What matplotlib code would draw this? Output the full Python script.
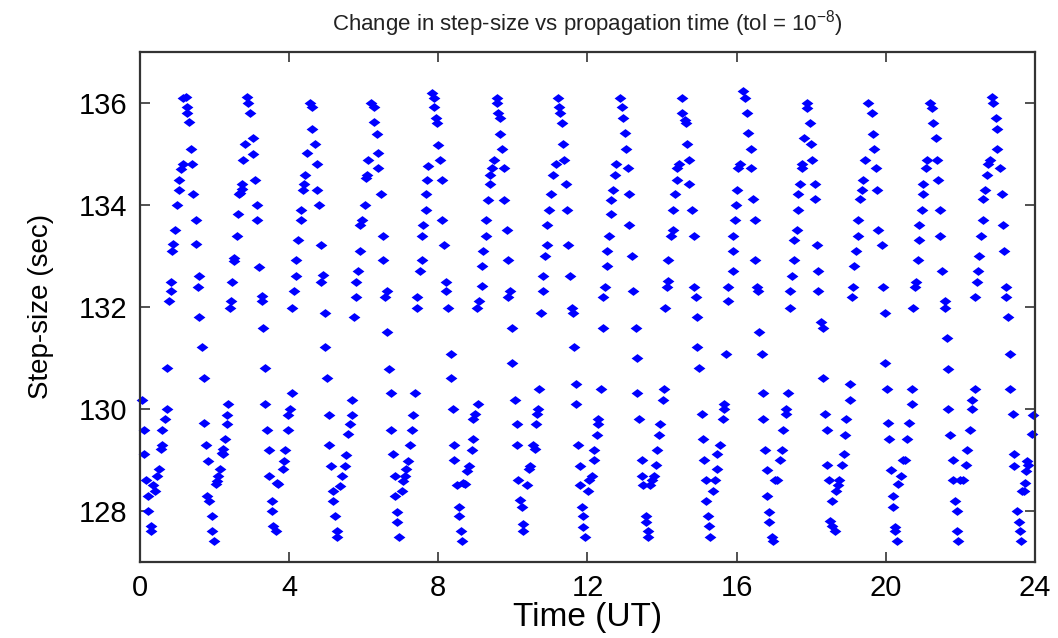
import matplotlib
matplotlib.use("Agg")
import matplotlib.pyplot as plt
import numpy as np

# step-size samples (time in hours UT, step in seconds) in six strips
t_a = [0.045, 0.107, 0.107, 0.152, 0.224, 0.224, 0.286, 0.286, 0.358, 0.402, 0.447, 0.509,
       0.554, 0.599, 0.599, 0.670, 0.715, 0.715, 0.778, 0.822, 0.822, 0.867, 0.894, 0.938,
       0.983, 1.046, 1.046, 1.099, 1.144, 1.162, 1.233, 1.269, 1.269, 1.323, 1.367, 1.385,
       1.430, 1.492, 1.492, 1.591, 1.546, 1.591, 1.653, 1.716, 1.716, 1.770, 1.814, 1.787,
       1.859, 1.921, 1.921, 1.993, 2.038, 2.073, 2.100, 2.145, 2.190, 2.216, 2.234, 2.279,
       2.324, 2.324, 2.368, 2.413, 2.431, 2.476, 2.520, 2.520, 2.592, 2.636, 2.654, 2.681,
       2.726, 2.726, 2.770, 2.815, 2.860, 2.904, 2.949, 3.039, 3.039, 3.083, 3.128, 3.128,
       3.200, 3.262, 3.262, 3.307, 3.351, 3.351, 3.414, 3.468, 3.468, 3.530, 3.530, 3.575,
       3.637, 3.664, 3.709]
s_a = [130.18, 129.58, 129.11, 128.60, 128.29, 128.00, 127.70, 127.61, 128.51, 128.39, 128.68, 128.81,
       129.21, 129.29, 129.58, 129.79, 130.00, 130.79, 132.11, 132.31, 132.49, 133.09, 133.22, 133.51,
       133.99, 134.28, 134.49, 134.69, 134.79, 136.09, 136.11, 135.92, 135.79, 135.62, 135.10, 134.80,
       134.20, 133.69, 133.22, 132.60, 132.39, 131.80, 131.20, 130.61, 129.71, 129.28, 128.98, 128.29,
       128.19, 127.90, 127.61, 127.40, 128.52, 128.59, 128.68, 128.81, 129.14, 129.21, 129.11, 129.40,
       129.70, 129.88, 130.09, 131.98, 132.11, 132.49, 132.89, 132.96, 133.38, 133.81, 134.20, 134.23,
       134.30, 134.40, 134.88, 135.19, 136.11, 135.99, 135.79, 135.31, 134.99, 134.49, 133.99, 133.69,
       132.78, 132.21, 132.11, 131.59, 130.79, 130.09, 129.58, 129.19, 128.68, 128.19, 128.00, 127.70,
       127.61, 128.55, 128.52]

t_b = [3.825, 3.861, 3.888, 3.977, 3.977, 4.022, 4.085, 4.085, 4.129, 4.183, 4.183, 4.246,
       4.308, 4.308, 4.362, 4.397, 4.424, 4.469, 4.558, 4.621, 4.621, 4.692, 4.755, 4.755,
       4.809, 4.844, 4.898, 4.853, 4.960, 4.960, 5.023, 5.077, 5.077, 5.121, 5.166, 5.166,
       5.229, 5.291, 5.291, 5.363, 5.407, 5.497, 5.523, 5.568, 5.631, 5.675, 5.675, 5.738,
       5.792, 5.792, 5.854, 5.899, 5.899, 5.961, 6.033, 6.060, 6.095, 6.122, 6.185, 6.283,
       6.283, 6.346, 6.390, 6.390, 6.453, 6.506, 6.506, 6.614, 6.569, 6.614, 6.676, 6.730,
       6.730, 6.792, 6.837, 6.837, 6.882, 6.882, 6.953, 7.016, 7.061, 7.105, 7.132, 7.195,
       7.239, 7.284, 7.329, 7.373, 7.436, 7.436, 7.507, 7.552, 7.552, 7.597, 7.659, 7.659,
       7.686, 7.731]
s_b = [128.81, 128.98, 129.19, 129.58, 129.88, 130.00, 130.30, 131.98, 132.31, 132.61, 132.91, 133.30,
       133.69, 133.89, 134.28, 134.41, 134.59, 135.01, 135.99, 135.91, 135.49, 135.19, 134.80, 134.28,
       133.99, 133.21, 132.63, 132.49, 131.88, 131.20, 130.60, 129.88, 129.28, 128.88, 128.38, 128.19,
       127.90, 127.61, 127.48, 128.49, 128.68, 128.88, 129.09, 129.50, 129.70, 129.88, 130.17, 131.80,
       132.19, 132.49, 132.70, 133.09, 133.60, 133.69, 133.99, 134.53, 134.59, 134.88, 135.99, 135.91,
       135.62, 135.39, 135.01, 134.71, 134.20, 133.38, 132.91, 132.31, 132.19, 131.50, 130.77, 130.30,
       129.58, 129.11, 128.68, 128.29, 127.98, 127.77, 127.48, 128.39, 128.59, 128.68, 128.81, 128.98,
       129.28, 129.58, 129.88, 130.30, 131.98, 132.19, 132.70, 132.91, 133.38, 133.60, 133.89, 134.20,
       134.49, 134.75]

t_c = [7.822, 7.884, 7.884, 7.938, 7.974, 8.000, 8.045, 8.108, 8.108, 8.152, 8.206, 8.206,
       8.269, 8.331, 8.331, 8.385, 8.420, 8.420, 8.492, 8.563, 8.563, 8.608, 8.644, 8.653,
       8.715, 8.778, 8.832, 8.894, 8.939, 8.921, 8.983, 9.055, 9.046, 9.100, 9.162, 9.162,
       9.207, 9.278, 9.278, 9.323, 9.386, 9.386, 9.430, 9.493, 9.564, 9.564, 9.609, 9.654,
       9.654, 9.698, 9.761, 9.761, 9.832, 9.877, 9.922, 9.877, 9.984, 9.984, 10.056, 10.101,
       10.101, 10.145, 10.190, 10.235, 10.279, 10.279, 10.369, 10.440, 10.458, 10.547, 10.592, 10.619,
       10.655, 10.664, 10.708, 10.753, 10.815, 10.815, 10.860, 10.923, 10.905, 10.976, 11.012, 11.066,
       11.155, 11.218, 11.244, 11.262, 11.307, 11.352, 11.370, 11.423, 11.459, 11.486, 11.530, 11.575,
       11.602, 11.638, 11.682, 11.682, 11.754, 11.798, 11.798, 11.843, 11.888, 11.888, 11.933]
s_c = [136.19, 136.09, 135.91, 135.70, 135.60, 135.18, 134.88, 134.49, 133.69, 133.21, 132.49, 132.31,
       131.98, 131.08, 130.60, 130.00, 129.28, 128.99, 128.51, 128.08, 127.90, 127.61, 127.40, 128.55,
       128.52, 128.78, 128.88, 129.19, 129.40, 129.79, 129.89, 130.09, 131.98, 132.11, 132.40, 132.80,
       133.09, 133.38, 133.69, 134.10, 134.41, 134.59, 134.71, 134.88, 136.09, 135.99, 135.79, 135.69,
       135.39, 135.10, 134.71, 134.10, 133.51, 132.91, 132.31, 132.19, 131.59, 130.90, 130.17, 129.70,
       129.28, 128.60, 128.21, 128.08, 127.74, 127.61, 128.51, 128.81, 128.88, 129.28, 129.21, 129.70,
       129.89, 130.00, 130.39, 131.88, 132.31, 132.61, 132.99, 133.21, 133.60, 133.89, 134.20, 134.59,
       134.80, 136.09, 135.91, 135.79, 135.60, 135.19, 134.88, 134.41, 133.89, 133.21, 132.61, 131.98,
       131.88, 131.20, 130.48, 130.09, 129.28, 128.88, 128.51, 128.08, 127.90, 127.68, 127.48]

t_d = [12.022, 12.049, 12.112, 12.174, 12.174, 12.246, 12.291, 12.291, 12.353, 12.407, 12.407, 12.469,
       12.514, 12.514, 12.576, 12.621, 12.630, 12.675, 12.737, 12.764, 12.871, 12.916, 12.943, 13.005,
       13.032, 13.077, 13.122, 13.122, 13.184, 13.229, 13.300, 13.336, 13.336, 13.390, 13.452, 13.452,
       13.497, 13.568, 13.568, 13.631, 13.631, 13.676, 13.720, 13.783, 13.837, 13.854, 13.926, 13.944,
       14.015, 14.051, 14.078, 14.140, 14.167, 14.167, 14.230, 14.283, 14.283, 14.346, 14.391, 14.391,
       14.462, 14.525, 14.525, 14.614, 14.641, 14.677, 14.730, 14.730, 14.793, 14.855, 14.855, 14.909,
       14.945, 14.945, 14.998, 15.061, 15.088, 15.123, 15.177, 15.177, 15.222, 15.266, 15.284, 15.356,
       15.418, 15.481, 15.481, 15.552, 15.624, 15.660, 15.660, 15.713, 15.776, 15.776]
s_d = [128.39, 128.60, 128.68, 128.99, 129.19, 129.49, 129.70, 129.79, 130.39, 131.59, 132.19, 132.39,
       132.80, 133.09, 133.38, 133.81, 134.10, 134.28, 134.59, 134.80, 136.09, 135.91, 135.70, 135.41,
       135.10, 134.71, 134.20, 133.60, 133.00, 132.31, 131.59, 130.99, 130.30, 129.79, 128.99, 128.68,
       128.51, 127.90, 127.77, 127.61, 127.48, 128.51, 128.60, 128.68, 128.89, 129.19, 129.49, 129.70,
       130.17, 130.39, 131.98, 132.39, 132.50, 132.91, 133.38, 133.51, 133.89, 134.20, 134.49, 134.71,
       134.80, 136.09, 135.79, 135.67, 135.60, 135.19, 134.88, 134.41, 133.89, 133.38, 132.39, 132.19,
       131.80, 131.20, 130.79, 129.89, 129.40, 128.99, 128.60, 128.19, 127.90, 127.70, 127.48, 128.39,
       128.60, 128.81, 129.11, 129.28, 129.79, 130.00, 130.09, 131.08, 132.11, 132.39]

t_e = [15.893, 15.893, 15.911, 15.956, 15.983, 16.001, 16.045, 16.090, 16.179, 16.224, 16.269, 16.313,
       16.376, 16.376, 16.430, 16.492, 16.492, 16.537, 16.582, 16.608, 16.671, 16.716, 16.716, 16.760,
       16.823, 16.823, 16.877, 16.877, 16.939, 16.984, 17.028, 17.073, 17.162, 17.207, 17.252, 17.323,
       17.323, 17.386, 17.431, 17.431, 17.475, 17.538, 17.538, 17.609, 17.654, 17.654, 17.699, 17.743,
       17.743, 17.806, 17.877, 17.895, 17.967, 17.985, 18.011, 18.101, 18.101, 18.146, 18.190, 18.190,
       18.253, 18.306, 18.324, 18.369, 18.414, 18.414, 18.485, 18.548, 18.503, 18.548, 18.637, 18.664,
       18.726, 18.753, 18.816, 18.878, 18.905, 18.932, 19.039, 19.039, 19.084, 19.129, 19.146, 19.200,
       19.245, 19.263, 19.307, 19.352, 19.379, 19.441, 19.531, 19.620, 19.647, 19.683, 19.736, 19.754,
       19.799]
s_e = [132.70, 133.09, 133.38, 133.69, 133.99, 134.28, 134.71, 134.80, 136.22, 136.09, 135.79, 135.41,
       135.10, 134.71, 134.11, 133.69, 132.91, 132.39, 132.31, 131.50, 131.08, 130.30, 129.79, 129.19,
       128.80, 128.29, 127.98, 127.77, 127.48, 127.40, 128.60, 128.60, 128.99, 129.19, 129.58, 129.89,
       130.00, 130.30, 131.98, 132.31, 132.61, 132.91, 133.30, 133.51, 133.89, 134.20, 134.41, 134.71,
       134.79, 135.31, 135.99, 135.90, 135.60, 135.19, 134.88, 134.41, 134.11, 133.21, 132.70, 132.31,
       131.69, 131.59, 130.61, 129.89, 129.58, 128.89, 128.60, 128.19, 127.80, 127.70, 127.61, 128.39,
       128.51, 128.60, 128.89, 129.11, 129.49, 129.79, 130.17, 130.48, 132.19, 132.39, 132.80, 133.09,
       133.38, 133.69, 134.11, 134.28, 134.49, 134.88, 135.99, 135.79, 135.39, 135.10, 134.71, 134.28,
       133.51]

t_f = [19.889, 19.933, 19.978, 19.978, 20.023, 20.067, 20.094, 20.130, 20.201, 20.201, 20.246, 20.246,
       20.309, 20.336, 20.398, 20.470, 20.514, 20.577, 20.621, 20.693, 20.693, 20.738, 20.782, 20.809,
       20.854, 20.899, 20.899, 20.961, 21.006, 21.006, 21.077, 21.095, 21.184, 21.229, 21.274, 21.345,
       21.363, 21.408, 21.453, 21.453, 21.515, 21.587, 21.587, 21.631, 21.676, 21.676, 21.721, 21.792,
       21.792, 21.855, 21.899, 21.899, 21.944, 21.989, 22.078, 22.150, 22.168, 22.257, 22.302, 22.302,
       22.391, 22.391, 22.436, 22.480, 22.498, 22.543, 22.596, 22.614, 22.659, 22.722, 22.748, 22.793,
       22.838, 22.882, 22.954, 22.990, 22.990, 23.061, 23.106, 23.133, 23.168, 23.222, 23.222, 23.267,
       23.329, 23.329, 23.401, 23.436, 23.436, 23.526, 23.579, 23.597, 23.615, 23.642, 23.704, 23.731,
       23.758, 23.776, 23.821, 23.910, 23.937]
s_f = [133.21, 132.39, 131.88, 130.90, 130.39, 129.71, 129.40, 128.80, 128.29, 128.08, 127.68, 127.61,
       127.40, 128.52, 128.68, 128.99, 128.99, 129.40, 129.71, 130.09, 130.39, 131.98, 132.39, 132.49,
       132.91, 133.30, 133.60, 133.89, 134.20, 134.41, 134.71, 134.88, 135.99, 135.90, 135.60, 135.31,
       134.88, 134.49, 133.89, 133.38, 132.70, 132.11, 131.98, 131.38, 130.77, 130.00, 129.49, 128.99,
       128.60, 128.19, 128.00, 127.61, 127.40, 128.60, 128.60, 128.89, 129.19, 129.58, 130.00, 130.17,
       130.39, 132.19, 132.49, 132.70, 133.00, 133.38, 133.69, 134.11, 134.28, 134.59, 134.79, 134.88,
       136.11, 135.99, 135.70, 135.49, 135.10, 134.71, 134.20, 133.60, 133.09, 132.39, 132.19, 131.80,
       131.08, 130.39, 129.89, 129.11, 128.88, 128.00, 127.77, 127.61, 127.40, 128.39, 128.39, 128.55,
       128.78, 128.98, 128.89, 129.50, 129.88]

x_ticks = [0, 4, 8, 12, 16, 20, 24]
y_ticks = [128, 130, 132, 134, 136]

plt.rcParams['font.family'] = ['Liberation Sans', 'DejaVu Sans']
plt.rcParams['mathtext.fontset'] = 'custom'
plt.rcParams['mathtext.rm'] = 'Liberation Sans'
plt.rcParams['mathtext.it'] = 'Liberation Sans'

fig = plt.figure(figsize=(10.58, 6.38), dpi=100)
ax = fig.add_axes([0.1323, 0.1196, 0.8459, 0.7994])

# slightly flattened diamond, like the MATLAB markers
diamond = [(-1, 0), (0, 0.75), (1, 0), (0, -0.75), (-1, 0)]

t_all = np.concatenate([t_a, t_b, t_c, t_d, t_e, t_f])
s_all = np.concatenate([s_a, s_b, s_c, s_d, s_e, s_f])
ax.plot(t_all, s_all, linestyle='none', marker=diamond, markersize=8.5,
        color='#0000ff', markeredgewidth=0, clip_on=False)

ax.set_xlim(0, 24)
ax.set_ylim(127, 137)
ax.set_xticks(x_ticks)
ax.set_yticks(y_ticks)

for sp in ax.spines.values():
    sp.set_linewidth(1.6)
    sp.set_color('#333333')
ax.tick_params(direction='in', length=7, width=1.2, top=True, right=True,
               labelsize=21, color='#333333')
ax.tick_params(axis='x', pad=9)
ax.tick_params(axis='y', pad=9)

ax.set_xlabel('Time (UT)', fontsize=24, labelpad=0)
ax.set_ylabel('Step-size (sec)', fontsize=20, labelpad=18)
ax.set_title(r'Change in step-size vs propagation time (tol = 10$^{-8}$)',
             fontsize=16, pad=15, color='#222222')

fig.savefig('out.png', dpi=100)
